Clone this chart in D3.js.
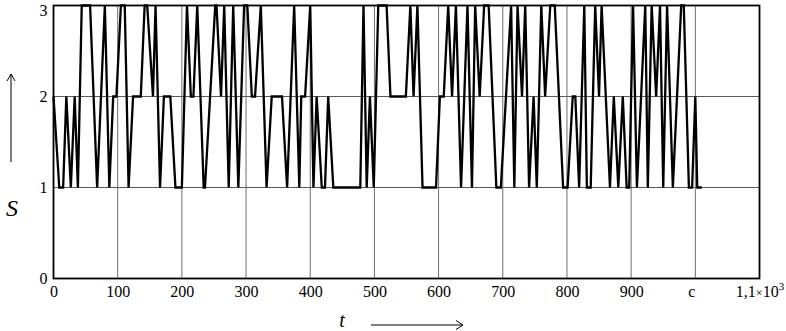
<!DOCTYPE html>
<html><head><meta charset="utf-8">
<script src="https://cdn.jsdelivr.net/npm/d3@7"></script>
<style>html,body{margin:0;padding:0;background:#fff;} svg{display:block;}</style>
</head><body>
<svg id="c" width="786" height="331"></svg>
<script>
// time points (t) and state values (S)
const times = [0,9,15,20,27,33,38,44,57,68,80,87,93,98,105,111,117,124,136,142,146,155,159,166,172,182,190,200,208,214,218,224,234,236,252,254,261,266,273,280,288,297,302,309,314,323,332,340,356,364,375,383,386,392,400,405,410,418,423,428,436,478,483,488,493,499,506,519,525,549,556,561,567,575,596,602,608,615,621,627,635,645,652,657,664,671,678,690,697,713,718,723,730,735,741,748,753,760,766,774,781,794,801,809,813,819,827,831,837,844,850,854,867,873,880,887,893,897,903,909,922,926,932,939,945,950,956,965,978,982,990,995,1000,1003,1010];
const states = [2,1,1,2,1,2,1,3,3,1,3,1,2,2,3,3,1,2,2,3,3,2,3,1,2,2,1,1,3,2,2,3,1,1,3,3,2,3,1,3,1,3,3,2,2,3,1,2,2,1,3,1,2,2,3,1,2,1,1,2,1,1,3,1,2,1,3,3,2,2,3,2,3,1,1,2,2,3,2,3,1,3,1,3,2,3,3,1,1,3,1,3,2,3,1,2,1,3,2,3,3,1,1,2,2,1,3,1,1,3,2,3,1,2,1,2,1,1,3,1,3,1,3,2,3,1,3,1,3,3,1,1,2,1,1];
const xTicks = [0,100,200,300,400,500,600,700,800,900,1000,1100];
const xTickLabels = ["0","100","200","300","400","500","600","700","800","900","c","1,1×10³"];
const yTicks = [0,1,2,3];
const yTickLabels = ["0","1","2","3"];

const svg = d3.select("#c");
const FONT = "'Liberation Serif','Times New Roman',serif";
const x = d3.scaleLinear().domain([0,1100]).range([53.5,759.5]);
const y = d3.scaleLinear().domain([0,3]).range([278.5,5.5]);

// grid
svg.append("g").selectAll("line").data(xTicks.filter(d=>d>0&&d<1100)).join("line")
  .attr("x1",d=>x(d)).attr("x2",d=>x(d)).attr("y1",y(3)).attr("y2",y(0))
  .attr("stroke","#6e6e6e").attr("stroke-width",1);
svg.append("g").selectAll("line").data(yTicks.filter(d=>d>0&&d<3)).join("line")
  .attr("x1",x(0)).attr("x2",x(1100)).attr("y1",d=>y(d)).attr("y2",d=>y(d))
  .attr("stroke","#5a5a5a").attr("stroke-width",1);

// data line
const pts = times.map((t,i)=>[t,states[i]]);
svg.append("path").datum(pts)
  .attr("d", d3.line().x(d=>x(d[0])).y(d=>y(d[1])))
  .attr("fill","none").attr("stroke","#000").attr("stroke-width",2.3)
  .attr("stroke-linejoin","miter");

// frame
svg.append("rect").attr("x",x(0)).attr("y",y(3)).attr("width",x(1100)-x(0)).attr("height",y(0)-y(3))
  .attr("fill","none").attr("stroke","#000").attr("stroke-width",1.8);

// x axis labels
const gx = svg.append("g").attr("transform",`translate(0,${y(0)})`)
  .call(d3.axisBottom(x).tickValues(xTicks).tickSize(0).tickPadding(7)
    .tickFormat((d,i)=>xTickLabels[i]));
gx.select(".domain").remove();
gx.selectAll("text").attr("font-family",FONT).attr("font-size",16).attr("fill","#000");
gx.selectAll(".tick text").filter(d=>d===1000).attr("dx",-4);
const last = gx.selectAll(".tick text").filter(d=>d===1100);
last.text(null);
last.append("tspan").text("1,1");
last.append("tspan").attr("font-size",12).text("×");
last.append("tspan").text("10");
last.append("tspan").attr("font-size",11).attr("dy",-7).text("3");

// y axis labels
const gy = svg.append("g").attr("transform",`translate(${x(0)},0)`)
  .call(d3.axisLeft(y).tickValues(yTicks).tickSize(0).tickPadding(6)
    .tickFormat((d,i)=>yTickLabels[i]));
gy.select(".domain").remove();
gy.selectAll("text").attr("font-family",FONT).attr("font-size",16).attr("fill","#000");
gy.selectAll(".tick text").filter(d=>d===3).attr("dy","0.6em");

// axis titles with arrows
svg.append("text").attr("x",12).attr("y",216).attr("text-anchor","middle")
  .attr("font-family",FONT).attr("font-style","italic").attr("font-size",24).text("S");
svg.append("line").attr("x1",11).attr("x2",11).attr("y1",162).attr("y2",74)
  .attr("stroke","#000").attr("stroke-width",1);
svg.append("path").attr("d","M7,81 L11,74 L15,81").attr("fill","none").attr("stroke","#000").attr("stroke-width",1);

svg.append("text").attr("x",342).attr("y",327).attr("text-anchor","middle")
  .attr("font-family",FONT).attr("font-style","italic").attr("font-size",20).text("t");
svg.append("line").attr("x1",371).attr("x2",463).attr("y1",325).attr("y2",325)
  .attr("stroke","#000").attr("stroke-width",1);
svg.append("path").attr("d","M456,320.5 L463,325 L456,329.5").attr("fill","none").attr("stroke","#000").attr("stroke-width",1);
</script>
</body></html>
